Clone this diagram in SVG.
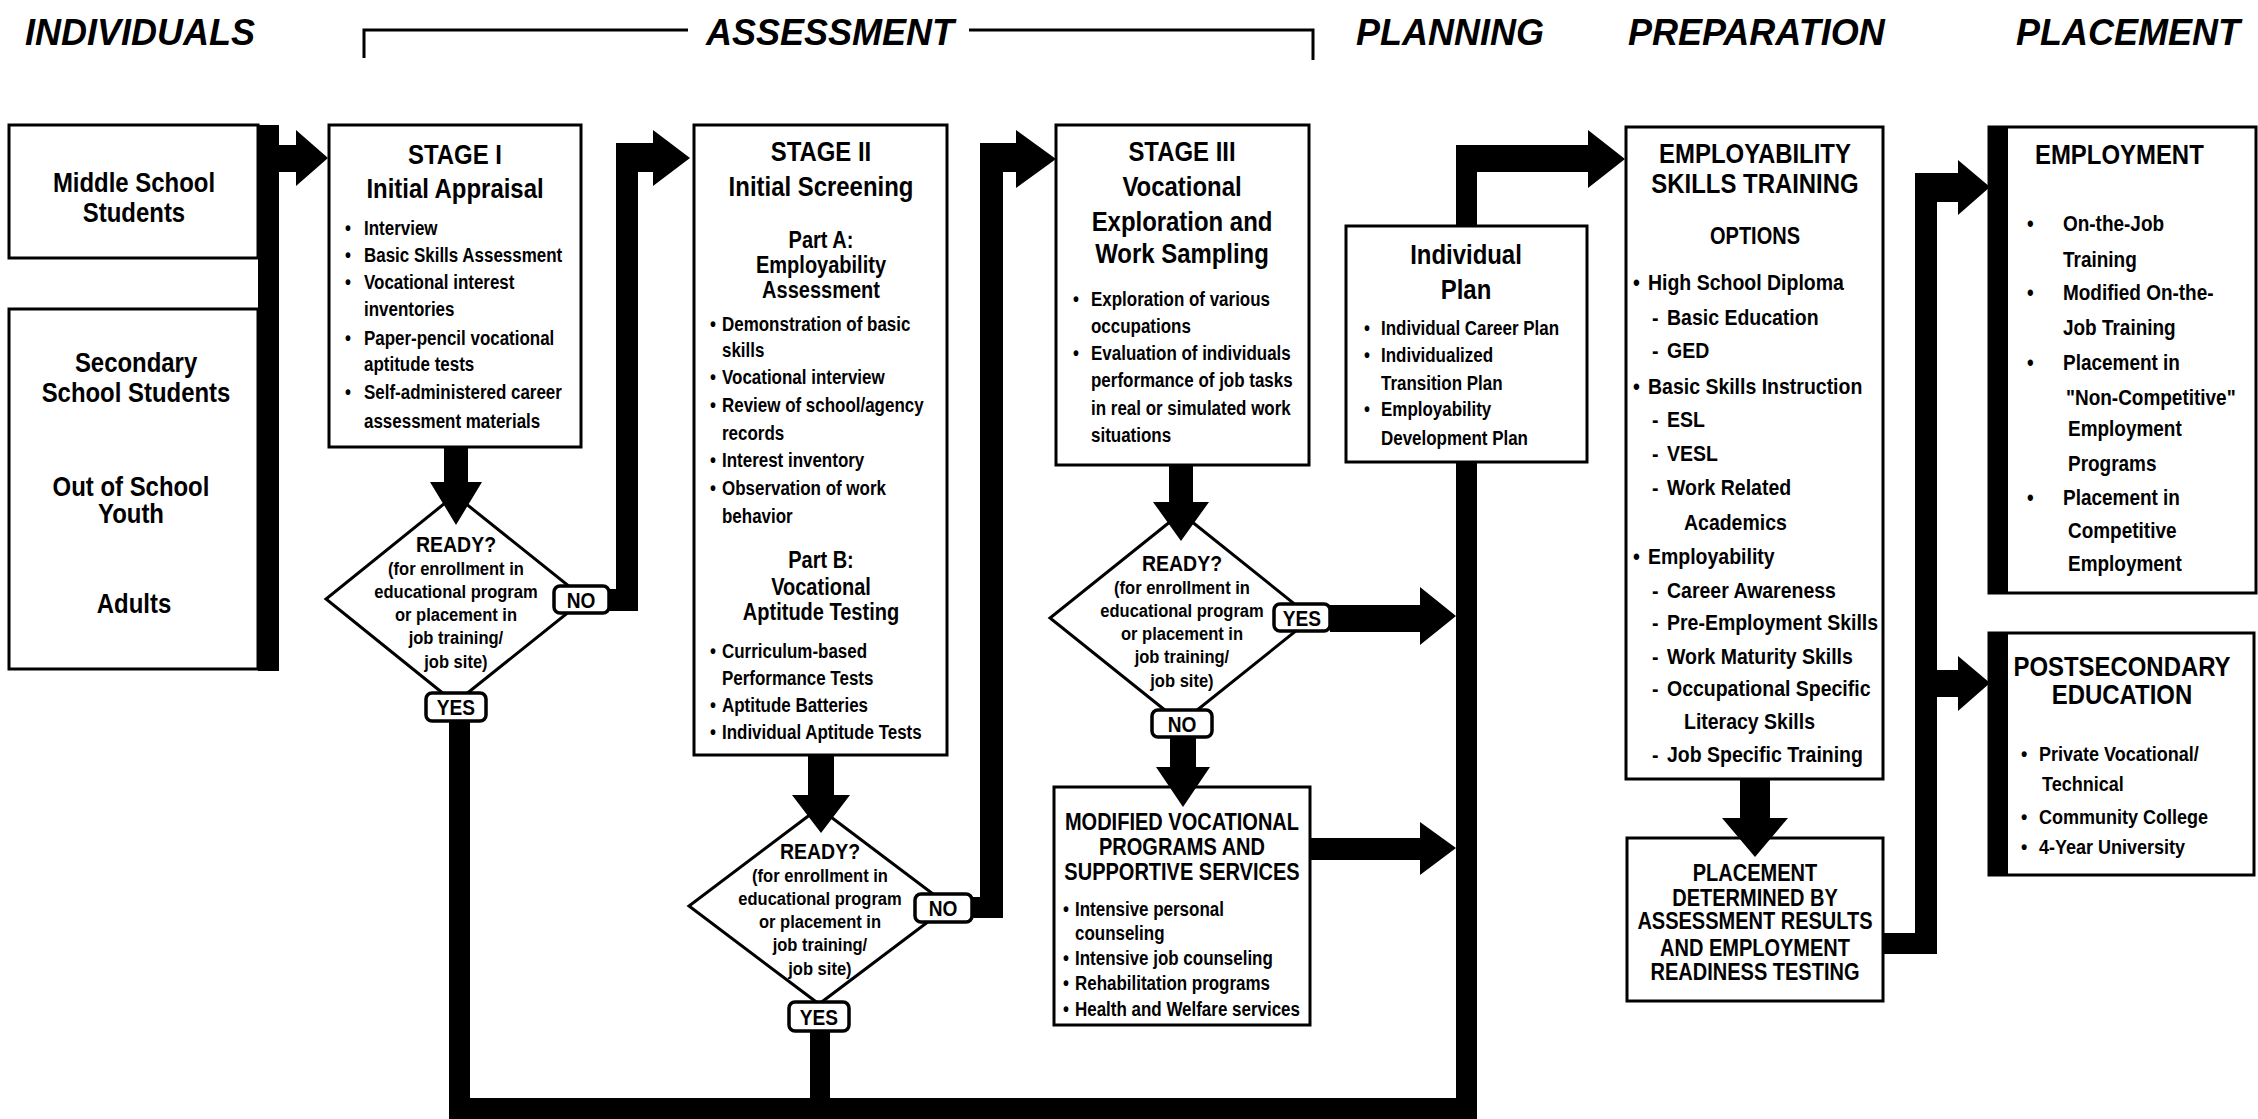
<svg xmlns="http://www.w3.org/2000/svg" width="2258" height="1119" viewBox="0 0 2258 1119">
<style>
text{font-family:"Liberation Sans",Arial,Helvetica,sans-serif;font-weight:bold;fill:#000;transform-box:fill-box;transform-origin:left center;transform:scaleX(0.87)}
.hdr{font-size:36px;font-style:italic;transform:none}
.c{text-anchor:middle;transform-origin:center}
.ti{font-size:27.5px}
.sub{font-size:23px}
.b{font-size:19.5px}
.e{font-size:22.4px}
.m{font-size:21.8px}
.p{font-size:20.7px}
.d{font-size:19px}
.rd{font-size:22.4px}
.lb{font-size:22px}
.box{fill:#fff;stroke:#000;stroke-width:3}
.dia{fill:#fff;stroke:#000;stroke-width:3}
.lab{fill:#fff;stroke:#000;stroke-width:3.5}
.con{fill:#000;stroke:none}
.brk{fill:none;stroke:#000;stroke-width:3}
</style>

<g id="phase-headers">
<text class="hdr" x="25" y="45">INDIVIDUALS</text>
<polyline class="brk" points="364,58 364,30 688,30"/>
<text class="hdr" x="706" y="45">ASSESSMENT</text>
<polyline class="brk" points="969,30 1313,30 1313,60"/>
<text class="hdr" x="1356" y="45">PLANNING</text>
<text class="hdr" x="1628" y="45">PREPARATION</text>
<text class="hdr" x="2016" y="45">PLACEMENT</text>
</g>

<g id="middle-school">
<rect class="box" x="9" y="125" width="249" height="133"/>
<text class="ti c" x="134" y="192">Middle School</text>
<text class="ti c" x="134" y="222">Students</text>
</g>

<g id="other-individuals">
<rect class="box" x="9" y="309" width="249" height="360"/>
<text class="ti c" x="136" y="372">Secondary</text>
<text class="ti c" x="136" y="402">School Students</text>
<text class="ti c" x="131" y="496">Out of School</text>
<text class="ti c" x="131" y="523">Youth</text>
<text class="ti c" x="134" y="613">Adults</text>
</g>

<g id="stage-1">
<rect class="box" x="329" y="125" width="252" height="322"/>
<text class="ti c" x="455" y="164">STAGE I</text>
<text class="ti c" x="455" y="198">Initial Appraisal</text>
<g class="b">
<text x="345" y="235">•</text><text x="364" y="235">Interview</text>
<text x="345" y="262">•</text><text x="364" y="262">Basic Skills Assessment</text>
<text x="345" y="289">•</text><text x="364" y="289">Vocational interest</text>
<text x="364" y="316">inventories</text>
<text x="345" y="345">•</text><text x="364" y="345">Paper-pencil vocational</text>
<text x="364" y="371">aptitude tests</text>
<text x="345" y="399">•</text><text x="364" y="399">Self-administered career</text>
<text x="364" y="428">assessment materials</text>
</g>
</g>

<g id="ready-1">
<polygon class="dia" points="455,495 585,599 455,703 326,599"/>
<text class="rd c" x="456" y="552">READY?</text>
<text class="d c" x="456" y="575">(for enrollment in</text>
<text class="d c" x="456" y="598">educational program</text>
<text class="d c" x="456" y="621">or placement in</text>
<text class="d c" x="456" y="644">job training/</text>
<text class="d c" x="456" y="668">job site)</text>
</g>

<g id="stage-2">
<rect class="box" x="694" y="125" width="253" height="630"/>
<text class="ti c" x="821" y="161">STAGE II</text>
<text class="ti c" x="821" y="196">Initial Screening</text>
<text class="sub c" x="821" y="248">Part A:</text>
<text class="sub c" x="821" y="273">Employability</text>
<text class="sub c" x="821" y="298">Assessment</text>
<g class="b">
<text x="710" y="331">•</text><text x="722" y="331">Demonstration of basic</text>
<text x="722" y="357">skills</text>
<text x="710" y="384">•</text><text x="722" y="384">Vocational interview</text>
<text x="710" y="412">•</text><text x="722" y="412">Review of school/agency</text>
<text x="722" y="440">records</text>
<text x="710" y="467">•</text><text x="722" y="467">Interest inventory</text>
<text x="710" y="495">•</text><text x="722" y="495">Observation of work</text>
<text x="722" y="523">behavior</text>
</g>
<text class="sub c" x="821" y="568">Part B:</text>
<text class="sub c" x="821" y="595">Vocational</text>
<text class="sub c" x="821" y="620">Aptitude Testing</text>
<g class="b">
<text x="710" y="658">•</text><text x="722" y="658">Curriculum-based</text>
<text x="722" y="685">Performance Tests</text>
<text x="710" y="712">•</text><text x="722" y="712">Aptitude Batteries</text>
<text x="710" y="739">•</text><text x="722" y="739">Individual Aptitude Tests</text>
</g>
</g>

<g id="ready-2">
<polygon class="dia" points="819,808 949,906 819,1004 689,906"/>
<text class="rd c" x="820" y="859">READY?</text>
<text class="d c" x="820" y="882">(for enrollment in</text>
<text class="d c" x="820" y="905">educational program</text>
<text class="d c" x="820" y="928">or placement in</text>
<text class="d c" x="820" y="951">job training/</text>
<text class="d c" x="820" y="975">job site)</text>
</g>

<g id="stage-3">
<rect class="box" x="1056" y="125" width="253" height="340"/>
<text class="ti c" x="1182" y="161">STAGE III</text>
<text class="ti c" x="1182" y="196">Vocational</text>
<text class="ti c" x="1182" y="231">Exploration and</text>
<text class="ti c" x="1182" y="263">Work Sampling</text>
<g class="b">
<text x="1073" y="306">•</text><text x="1091" y="306">Exploration of various</text>
<text x="1091" y="333">occupations</text>
<text x="1073" y="360">•</text><text x="1091" y="360">Evaluation of individuals</text>
<text x="1091" y="387">performance of job tasks</text>
<text x="1091" y="415">in real or simulated work</text>
<text x="1091" y="442">situations</text>
</g>
</g>

<g id="ready-3">
<polygon class="dia" points="1181,513 1312,618 1181,723 1050,618"/>
<text class="rd c" x="1182" y="571">READY?</text>
<text class="d c" x="1182" y="594">(for enrollment in</text>
<text class="d c" x="1182" y="617">educational program</text>
<text class="d c" x="1182" y="640">or placement in</text>
<text class="d c" x="1182" y="663">job training/</text>
<text class="d c" x="1182" y="687">job site)</text>
</g>

<g id="modified-programs">
<rect class="box" x="1054" y="787" width="256" height="238"/>
<text class="sub c" x="1182" y="830">MODIFIED VOCATIONAL</text>
<text class="sub c" x="1182" y="855">PROGRAMS AND</text>
<text class="sub c" x="1182" y="880">SUPPORTIVE SERVICES</text>
<g class="b">
<text x="1063" y="916">•</text><text x="1075" y="916">Intensive personal</text>
<text x="1075" y="940">counseling</text>
<text x="1063" y="965">•</text><text x="1075" y="965">Intensive job counseling</text>
<text x="1063" y="990">•</text><text x="1075" y="990">Rehabilitation programs</text>
<text x="1063" y="1016">•</text><text x="1075" y="1016">Health and Welfare services</text>
</g>
</g>

<g id="individual-plan">
<rect class="box" x="1346" y="226" width="241" height="236"/>
<text class="ti c" x="1466" y="264">Individual</text>
<text class="ti c" x="1466" y="299">Plan</text>
<g class="b">
<text x="1364" y="335">•</text><text x="1381" y="335">Individual Career Plan</text>
<text x="1364" y="362">•</text><text x="1381" y="362">Individualized</text>
<text x="1381" y="390">Transition Plan</text>
<text x="1364" y="416">•</text><text x="1381" y="416">Employability</text>
<text x="1381" y="445">Development Plan</text>
</g>
</g>

<g id="employability-training">
<rect class="box" x="1626" y="127" width="257" height="652"/>
<text class="ti c" x="1755" y="163">EMPLOYABILITY</text>
<text class="ti c" x="1755" y="193">SKILLS TRAINING</text>
<text class="sub c" x="1755" y="244">OPTIONS</text>
<g class="e">
<text x="1633" y="290">•</text><text x="1648" y="290">High School Diploma</text>
<text x="1652" y="325">-</text><text x="1667" y="325">Basic Education</text>
<text x="1652" y="358">-</text><text x="1667" y="358">GED</text>
<text x="1633" y="394">•</text><text x="1648" y="394">Basic Skills Instruction</text>
<text x="1652" y="427">-</text><text x="1667" y="427">ESL</text>
<text x="1652" y="461">-</text><text x="1667" y="461">VESL</text>
<text x="1652" y="495">-</text><text x="1667" y="495">Work Related</text>
<text x="1684" y="530">Academics</text>
<text x="1633" y="564">•</text><text x="1648" y="564">Employability</text>
<text x="1652" y="598">-</text><text x="1667" y="598">Career Awareness</text>
<text x="1652" y="630">-</text><text x="1667" y="630">Pre-Employment Skills</text>
<text x="1652" y="664">-</text><text x="1667" y="664">Work Maturity Skills</text>
<text x="1652" y="696">-</text><text x="1667" y="696">Occupational Specific</text>
<text x="1684" y="729">Literacy Skills</text>
<text x="1652" y="762">-</text><text x="1667" y="762">Job Specific Training</text>
</g>
</g>

<g id="placement-determined">
<rect class="box" x="1627" y="838" width="256" height="163"/>
<g class="sub">
<text class="c" x="1755" y="881">PLACEMENT</text>
<text class="c" x="1755" y="906">DETERMINED BY</text>
<text class="c" x="1755" y="929">ASSESSMENT RESULTS</text>
<text class="c" x="1755" y="956">AND EMPLOYMENT</text>
<text class="c" x="1755" y="980">READINESS TESTING</text>
</g>
</g>

<g id="employment">
<rect class="box" x="1989" y="127" width="267" height="466"/>
<rect x="1988" y="127" width="20" height="466" fill="#000"/>
<text class="ti" x="2035" y="164">EMPLOYMENT</text>
<g class="m">
<text x="2027" y="231">•</text><text x="2063" y="231">On-the-Job</text>
<text x="2063" y="267">Training</text>
<text x="2027" y="300">•</text><text x="2063" y="300">Modified On-the-</text>
<text x="2063" y="335">Job Training</text>
<text x="2027" y="370">•</text><text x="2063" y="370">Placement in</text>
<text x="2066" y="405">"Non-Competitive"</text>
<text x="2068" y="436">Employment</text>
<text x="2068" y="471">Programs</text>
<text x="2027" y="505">•</text><text x="2063" y="505">Placement in</text>
<text x="2068" y="538">Competitive</text>
<text x="2068" y="571">Employment</text>
</g>
</g>

<g id="postsecondary-education">
<rect class="box" x="1989" y="633" width="265" height="242"/>
<rect x="1988" y="633" width="20" height="242" fill="#000"/>
<text class="ti c" x="2122" y="676">POSTSECONDARY</text>
<text class="ti c" x="2122" y="704">EDUCATION</text>
<g class="p">
<text x="2021" y="761">•</text><text x="2039" y="761">Private Vocational/</text>
<text x="2042" y="791">Technical</text>
<text x="2021" y="824">•</text><text x="2039" y="824">Community College</text>
<text x="2021" y="854">•</text><text x="2039" y="854">4-Year University</text>
</g>
</g>

<g id="connectors">
<path class="con" d="M258,125 H279 V145 H296 V130 L328,158 L296,186 V172 H279 V671 H258 Z"/>
<path class="con" d="M444,447 H468 V482 H482 L456,525 L430,482 H444 Z"/>
<path class="con" d="M609,589 H616 V143 H653 V130 L690,158 L653,186 V172 H638 V611 H609 Z"/>
<path class="con" d="M449,721 H470 V1098 H1456 V462 H1477 V1119 H449 Z"/>
<path class="con" d="M808,755 H834 V795 H850 L821,833 L792,795 H808 Z"/>
<path class="con" d="M972,897 H980 V143 H1016 V130 L1056,159 L1016,188 V172 H1003 V918 H972 Z"/>
<rect class="con" x="810" y="1031" width="20" height="70"/>
<path class="con" d="M1169,465 H1193 V502 H1209 L1181,541 L1153,502 H1169 Z"/>
<path class="con" d="M1330,605 H1420 V587 L1456,616 L1420,645 V632 H1330 Z"/>
<path class="con" d="M1170,737 H1196 V767 H1210 L1183,807 L1156,767 H1170 Z"/>
<path class="con" d="M1310,838 H1420 V822 L1456,848 L1420,875 V860 H1310 Z"/>
<path class="con" d="M1456,226 V145 H1588 V130 L1625,159 L1588,188 V172 H1477 V226 Z"/>
<path class="con" d="M1740,779 H1770 V818 H1788 L1755,857 L1722,818 H1740 Z"/>
<path class="con" d="M1883,933 H1915 V173 H1958 V160 L1990,187 L1958,215 V202 H1937 V670 H1958 V656 L1990,683 L1958,711 V697 H1937 V954 H1883 Z"/>
<g id="branch-labels">
<rect class="lab" x="554" y="586" width="55" height="27" rx="6"/>
<text class="lb c" x="581" y="608">NO</text>
<rect class="lab" x="426" y="693" width="60" height="28" rx="6"/>
<text class="lb c" x="456" y="715">YES</text>
<rect class="lab" x="915" y="894" width="57" height="28" rx="6"/>
<text class="lb c" x="943" y="916">NO</text>
<rect class="lab" x="789" y="1002" width="60" height="29" rx="6"/>
<text class="lb c" x="819" y="1025">YES</text>
<rect class="lab" x="1274" y="604" width="56" height="27" rx="6"/>
<text class="lb c" x="1302" y="626">YES</text>
<rect class="lab" x="1152" y="710" width="60" height="27" rx="6"/>
<text class="lb c" x="1182" y="732">NO</text>
</g>
</g>
</svg>
